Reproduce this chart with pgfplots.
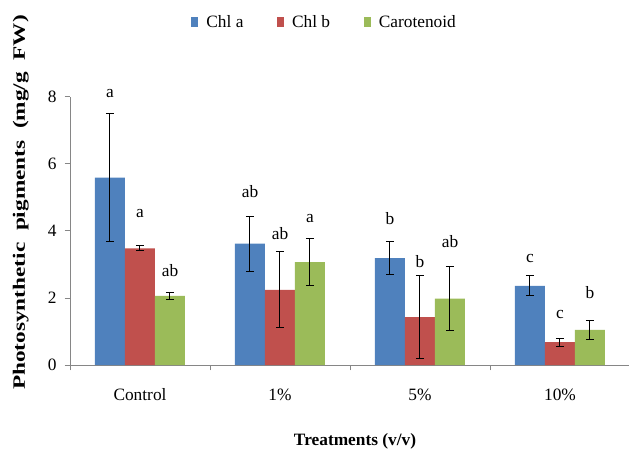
\documentclass[border=0pt]{standalone}
\usepackage{fontspec}
\setmainfont{Liberation Serif}
\usepackage{graphicx}
\usepackage{pgfplots}
\pgfplotsset{compat=1.18}
\definecolor{cA}{HTML}{4F81BD}
\definecolor{cB}{HTML}{C0504D}
\definecolor{cC}{HTML}{9BBB59}
\definecolor{axgray}{HTML}{868686}
\pgfplotsset{myerr/.style={error bars/.cd, y dir=both, y explicit,
  error bar style={black, line width=0.75pt},
  error mark options={rotate=90, black, mark size=3pt, line width=0.75pt}},
  mylab/.style={draw=none, fill=none, forget plot,
  nodes near coords, point meta=explicit symbolic,
  every node near coord/.append style={anchor=base, inner sep=0pt, yshift=0pt, font=\fontsize{13}{15}\selectfont, text=black}}}
\begin{document}
\begin{tikzpicture}
\useasboundingbox (-52.5pt,-64.5pt) rectangle (419.25pt,273.75pt);
\clip (-52.5pt,-64.5pt) rectangle (419.25pt,273.75pt);
\begin{axis}[
  at={(0pt,0pt)}, anchor=south west,
  width=420pt, height=201.2pt, scale only axis,
  clip=false,
  ybar, bar width=22.5pt,
  xmin=-0.5, xmax=3.5, ymin=0, ymax=8,
  axis x line*=bottom, axis y line*=left,
  axis line style={axgray, line width=0.6pt},
  xtick={-0.5,0.5,1.5,2.5,3.5},
  xticklabels={Control,1\%,5\%,10\%,},
  xticklabel style={anchor=base, xshift=52.5pt, yshift=-22.5pt},
  ytick={0,2,4,6,8},
  yticklabel style={anchor=east, xshift=-2.5pt},
  major tick length=4pt,
  tick align=outside,
  tick style={axgray, line width=0.6pt},
  ticklabel style={font=\fontsize{13}{15}\selectfont},
  /pgf/number format/assume math mode=true,
  xlabel={Treatments (v/v)},
  xlabel style={at={(axis description cs:0.509,-0.3019)}, anchor=base, font=\fontsize{13}{15}\selectfont\bfseries},
  ylabel={\resizebox{281pt}{\height}{Photosynthetic\ \ pigments\ \ (mg/g\ \ FW)}},
  ylabel style={at={(axis description cs:-0.0804,0.6057)}, anchor=base, font=\fontsize{13}{15}\selectfont\bfseries},
  legend style={at={(0.455,1.278)}, anchor=center, draw=none, fill=none,
    legend columns=3, font=\fontsize{13}{15}\selectfont,
    /tikz/every even column/.append style={column sep=23pt}},
  legend image code/.code={\fill[#1] (0pt,-3.75pt) rectangle (5.5pt,3.75pt); \path (9.5pt,0pt);},
]
\addplot[fill=cA, draw=none, bar shift=-22.5pt, myerr] coordinates {
  (0,5.59) +- (0,1.91)
  (1,3.62) +- (0,0.82)
  (2,3.19) +- (0,0.49)
  (3,2.36) +- (0,0.30)
};
\addlegendentry{Chl a}
\addplot[fill=cB, draw=none, bar shift=0pt, myerr] coordinates {
  (0,3.48) +- (0,0.07)
  (1,2.24) +- (0,1.13)
  (2,1.43) +- (0,1.25)
  (3,0.68) +- (0,0.12)
};
\addlegendentry{Chl b}
\addplot[fill=cC, draw=none, bar shift=22.5pt, myerr] coordinates {
  (0,2.06) +- (0,0.10)
  (1,3.07) +- (0,0.71)
  (2,1.98) +- (0,0.95)
  (3,1.05) +- (0,0.28)
};
\addlegendentry{Carotenoid}
\addplot[mylab, bar shift=-22.5pt] coordinates {
  (0,7.97) [a] (1,5.01) [ab] (2,4.18) [b] (3,3.07) [c]
};
\addplot[mylab, bar shift=0pt] coordinates {
  (0,4.39) [a] (1,3.73) [ab] (2,2.92) [b] (3,1.39) [c]
};
\addplot[mylab, bar shift=22.5pt] coordinates {
  (0,2.63) [ab] (1,4.24) [a] (2,3.50) [ab] (3,1.99) [b]
};
\end{axis}
\end{tikzpicture}
\end{document}
